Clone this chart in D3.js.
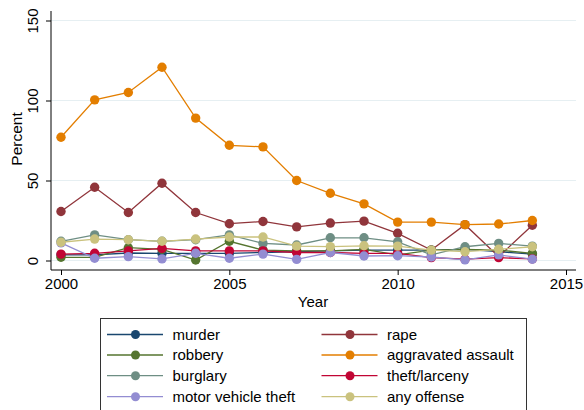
<!DOCTYPE html>
<html><head><meta charset="utf-8">
<script src="https://cdn.jsdelivr.net/npm/d3@7"></script>
<style>body{margin:0;background:#fff}svg{display:block}text{font-family:"Liberation Sans",Arial,Helvetica,sans-serif;fill:#000}</style>
</head><body><svg id="c" width="584" height="410"></svg>
<script>
const years = [2000,2001,2002,2003,2004,2005,2006,2007,2008,2009,2010,2011,2012,2013,2014];
const seriesNames = ["murder","rape","robbery","aggravated assault","burglary","theft/larceny","motor vehicle theft","any offense"];
const murder     = [3.5,3.5,4.7,4.5,4.5,4.5,5,5.5,6,6.5,6.5,6.5,7,5.5,4];
const rape       = [30.6,45.8,30,48.3,30,23,24.4,21,23.4,24.6,17,6.5,22.4,2.4,22];
const robbery    = [2,2,8,7,0.3,12,6.5,6,6,7,3.5,6.5,7,6.5,4.5];
const aggAssault = [77,100.4,105,120.8,89,72,71,50,42,35.4,24,24,22.4,22.8,25];
const burglary   = [12,16,13,12,13,16,10.7,9.7,14.2,14.2,11.7,3.5,8.6,10.7,9];
const theft      = [4,4.5,6,7.6,6,6,6,5,5,4.5,4.5,1.8,0.8,1.8,1];
const mvt        = [11,1.4,2.4,1,4.5,1.4,4,0.7,5,2.8,3,2.2,0.4,3.5,0.8];
const anyOffense = [11.4,13.4,13,12,13.4,14.7,14.7,9,8.7,9.2,9,6.5,5.5,7,8.6];
const colors = ["#1a476f","#90353b","#55752f","#e37e00","#6e8e84","#c10534","#938dd2","#cac27e"];
const yTicks = [0,50,100,150];
const xTicks = [2000,2005,2010,2015];
const allValues = [murder,rape,robbery,aggAssault,burglary,theft,mvt,anyOffense];

const svg = d3.select("#c");
const x = d3.scaleLinear().domain([2000,2015]).range([61,566]);
const y = d3.scaleLinear().domain([0,150]).range([260.5,20.5]);
const L = 51, B = 270, R = 576, T = 11;

// gridlines
svg.append("g").selectAll("line").data(yTicks).join("line")
  .attr("x1",L).attr("x2",R).attr("y1",d=>y(d)).attr("y2",d=>y(d))
  .attr("stroke","#e6eff2").attr("stroke-width",1);

// y axis
const ya = svg.append("g").attr("transform",`translate(${L},0)`)
  .call(d3.axisLeft(y).tickValues(yTicks).tickSize(5).tickPadding(0).tickFormat(d3.format("d")));
ya.select(".domain").attr("d",`M0,${T}V${B}`).attr("stroke","#000");
ya.selectAll(".tick line").attr("stroke","#000");
ya.selectAll(".tick text").attr("font-size",15).attr("transform","rotate(-90)")
  .attr("x",0).attr("y",-13).attr("dy","0").attr("text-anchor","middle");
ya.attr("font-family",null);

// x axis
const xa = svg.append("g").attr("transform",`translate(0,${B})`)
  .call(d3.axisBottom(x).tickValues(xTicks).tickSize(5).tickPadding(3).tickFormat(d3.format("d")));
xa.select(".domain").attr("d",`M${L},0H${R}`).attr("stroke","#000");
xa.selectAll(".tick line").attr("stroke","#000");
xa.selectAll(".tick text").attr("font-size",15);
xa.attr("font-family",null);

// axis titles
svg.append("text").attr("x",313).attr("y",307).attr("text-anchor","middle").attr("font-size",15).text("Year");
svg.append("text").attr("transform","translate(22,139) rotate(-90)").attr("text-anchor","middle").attr("font-size",15.5).text("Percent");

// series
const line = d3.line().x((d,i)=>x(years[i])).y(d=>y(d));
allValues.forEach((vals,k)=>{
  const g = svg.append("g");
  g.append("path").datum(vals).attr("d",line).attr("fill","none").attr("stroke",colors[k]).attr("stroke-width",1.3);
  g.selectAll("circle").data(vals).join("circle")
    .attr("cx",(d,i)=>x(years[i])).attr("cy",d=>y(d)).attr("r",4.7).attr("fill",colors[k]);
});

// legend
const lg = svg.append("g");
lg.append("rect").attr("x",100.5).attr("y",318.5).attr("width",426).attr("height",100).attr("fill","#fff").attr("stroke","#333").attr("stroke-width",1);
const rowsY = [334.5,355,375.7,396.7];
seriesNames.forEach((name,k)=>{
  const col = k%2, row = Math.floor(k/2);
  const x0 = col===0 ? 107 : 321.5;
  const yy = rowsY[row];
  lg.append("line").attr("x1",x0).attr("x2",x0+56).attr("y1",yy).attr("y2",yy).attr("stroke",colors[k]).attr("stroke-width",1.3);
  lg.append("circle").attr("cx",x0+28.5).attr("cy",yy).attr("r",4.5).attr("fill",colors[k]);
  lg.append("text").attr("x",x0+65.5).attr("y",yy+5.3).attr("font-size",15).text(name);
});
</script></body></html>
